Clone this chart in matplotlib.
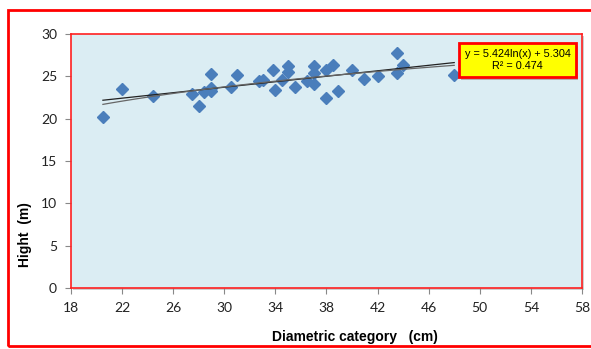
import numpy as np
import matplotlib
matplotlib.use("Agg")
import matplotlib.pyplot as plt
from matplotlib.patches import Rectangle

# diameter (cm) and height (m)
diam = [20.5, 22.0, 24.4, 27.5, 28.0, 28.4, 29.0, 29.0, 29.0, 30.5, 31.0,
        32.7, 33.0, 33.8, 34.0, 34.5, 35.0, 35.0, 35.5, 36.5, 37.0, 37.0,
        37.0, 38.0, 38.0, 38.5, 38.9, 40.0, 40.9, 42.0, 43.5, 43.5, 44.0, 48.0]
hight = [20.2, 23.5, 22.7, 22.9, 21.5, 23.2, 25.3, 23.6, 23.3, 23.7, 25.1,
         24.5, 24.6, 25.8, 23.4, 24.6, 26.2, 25.5, 23.7, 24.4, 26.2, 25.4,
         24.1, 25.8, 22.4, 26.3, 23.3, 25.8, 24.7, 25.0, 27.8, 25.4, 26.3, 25.2]

# log trend from the label
a_log, b_log = 5.424, 5.304
eq_text = "y = 5.424ln(x) + 5.304\nR² = 0.474"

xticks = [18, 22, 26, 30, 34, 38, 42, 46, 50, 54, 58]
yticks = [0, 5, 10, 15, 20, 25, 30]

fig = plt.figure(figsize=(5.91, 3.49), dpi=100)
ax = fig.add_axes([0.1201, 0.1748, 0.8646, 0.7278])
ax.set_zorder(2)
ax.set_facecolor("#DBEDF3")

# shadow of the plot area
fig.patches.append(Rectangle((0.1201 + 0.004, 0.1748 - 0.007), 0.8646, 0.7278,
                             transform=fig.transFigure, facecolor="#cfcfcf",
                             edgecolor="none", zorder=1))

ax.plot(diam, hight, linestyle="none", marker="D", ms=5.8,
        color="#4A7EBB", zorder=3)

xs = np.linspace(min(diam), max(diam), 100)
p = np.polyfit(diam, hight, 1)
ax.plot(xs, np.polyval(p, xs), color="#222222", lw=0.9, zorder=4)
ax.plot(xs, a_log * np.log(xs) + b_log, color="#666666", lw=0.9, zorder=4)

ax.set_xlim(18, 58)
ax.set_ylim(0, 30)
ax.set_xticks(xticks)
ax.set_yticks(yticks)
ax.tick_params(direction="out", length=4, color="#888888", labelsize=10,
               labelcolor="#222222", pad=6)
for lab in ax.get_xticklabels() + ax.get_yticklabels():
    lab.set_fontfamily("Lato")
for s in ax.spines.values():
    s.set_color("#ff2020")
    s.set_linewidth(1.2)

fig.text(0.6007, 0.034, "Diametric category   (cm)", ha="center", va="center",
         fontsize=10, fontweight="bold", fontfamily="Liberation Sans")
fig.text(0.042, 0.327, "Hight  (m)", ha="center", va="center", rotation=90,
         fontsize=10, fontweight="bold", fontfamily="Liberation Sans")

# equation box
fig.patches.append(Rectangle((461 / 591, 1 - 80 / 349), 117 / 591, 34 / 349,
                             transform=fig.transFigure, facecolor="#b0b0b0",
                             edgecolor="none", zorder=5))
fig.patches.append(Rectangle((459 / 591, 1 - 77 / 349), 117 / 591, 34 / 349,
                             transform=fig.transFigure, facecolor="#FFFF00",
                             edgecolor="#ff0000", lw=2, zorder=6))
fig.text(517.5 / 591, 1 - 60 / 349, eq_text, ha="center", va="center",
         fontsize=7.8, fontfamily="Liberation Sans", zorder=7,
         linespacing=1.3)

# outer chart border
fig.patches.append(Rectangle((8 / 591, 1 - 346 / 349), 1.2, 336 / 349,
                             transform=fig.transFigure, facecolor="none",
                             edgecolor="#ff0000", lw=2, zorder=1))

fig.savefig("out.png", dpi=100)
